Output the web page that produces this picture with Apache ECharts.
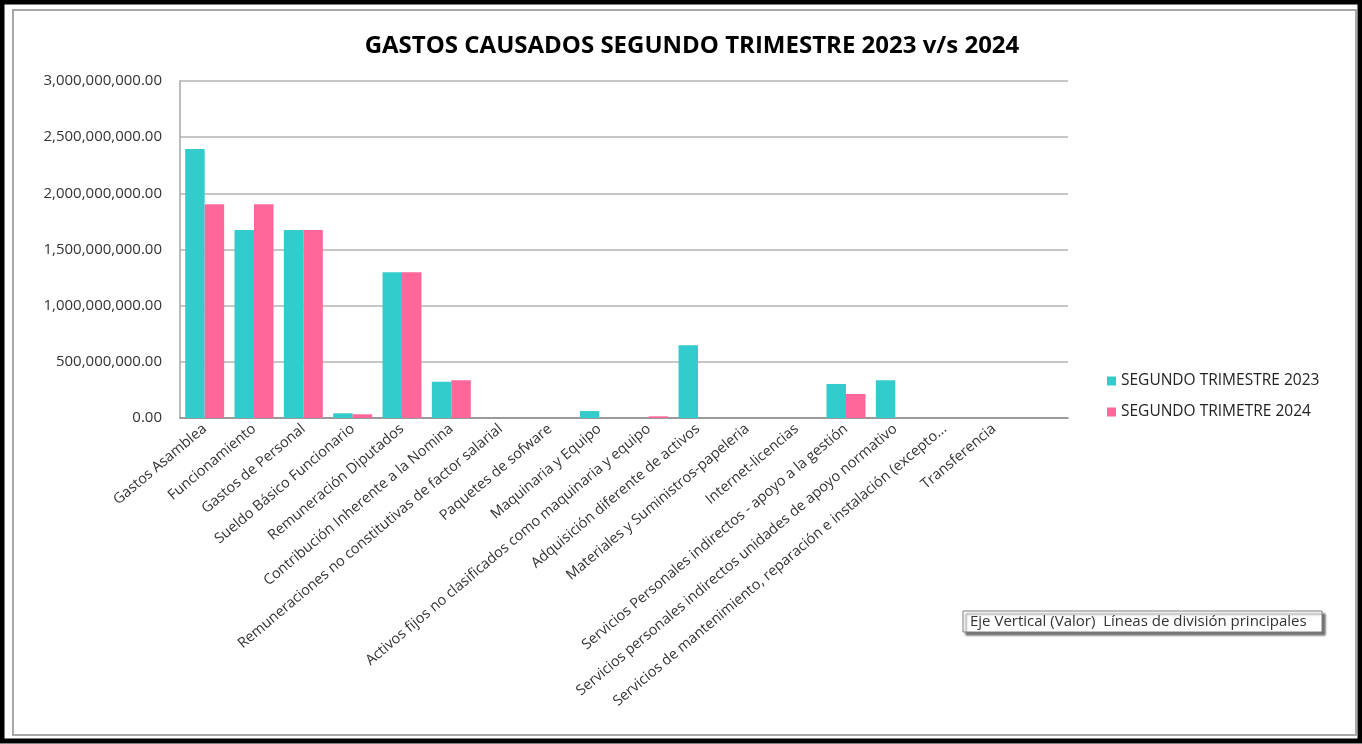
<!DOCTYPE html>
<html lang="es">
<head>
    <meta charset="UTF-8">
    <title>Gastos causados</title>
    <script src="https://cdn.jsdelivr.net/npm/echarts@6/dist/echarts.min.js"></script>
    <style>
        html, body {
            margin: 0;
            padding: 0;
            background: #fff;
        }
        #box {
            width: 1362px;
            height: 744px;
        }
    </style>
</head>
<body>
<div id="box"></div>
<script>
    // categorias (la ultima va vacia, asi sale en el original)
    var categorias = [
        'Gastos Asamblea',
        'Funcionamiento',
        'Gastos de Personal',
        'Sueldo Básico Funcionario',
        'Remuneración Diputados',
        'Contribución Inherente a la Nomina',
        'Remuneraciones no constitutivas de factor salarial',
        'Paquetes de sofware',
        'Maquinaria y Equipo',
        'Activos fijos no clasificados como maquinaria y equipo',
        'Adquisición diferente de activos',
        'Materiales y Suministros-papeleria',
        'Internet-licencias',
        'Servicios Personales indirectos - apoyo a la gestión',
        'Servicios personales indirectos unidades de apoyo normativo',
        'Servicios de mantenimiento, reparación e instalación (excepto...',
        'Transferencia',
        ''
    ];
    var nombres = ['SEGUNDO TRIMESTRE 2023', 'SEGUNDO TRIMETRE 2024'];
    var trimestre2023 = [2395000000, 1674000000, 1674000000, 42000000, 1297000000, 323000000, 0, 0, 62000000, 0, 647000000, 0, 0, 303000000, 336000000, 0, 0, 0];
    var trimestre2024 = [1902000000, 1902000000, 1674000000, 33000000, 1297000000, 336000000, 0, 0, 0, 15000000, 0, 0, 0, 214000000, 0, 0, 0, 0];
    var colores = ['#33CCCC', '#FF6699'];

    function formato(v) {
        var s = v.toFixed(2).split('.');
        return s[0].replace(/\B(?=(\d{3})+(?!\d))/g, ',') + '.' + s[1];
    }

    var fuente = "'Open Sans', 'Noto Sans', sans-serif";

    var myChart = echarts.init(document.getElementById('box'));
    var option = {
        backgroundColor: '#fff',
        animation: false,
        title: {
            text: 'GASTOS CAUSADOS SEGUNDO TRIMESTRE 2023 v/s 2024',
            left: 687,
            textAlign: 'center',
            top: 29,
            textStyle: {
                fontFamily: fuente,
                fontSize: 24,
                fontWeight: 'bold',
                color: '#000'
            }
        },
        legend: {
            orient: 'vertical',
            left: 1107,
            top: 373,
            padding: 0,
            itemWidth: 9,
            itemHeight: 9,
            itemGap: 15,
            icon: 'rect',
            textStyle: {
                fontFamily: fuente,
                fontSize: 15.5,
                color: '#222'
            },
            data: nombres
        },
        grid: {
            left: 180,
            top: 81,
            width: 888,
            height: 337
        },
        xAxis: {
            type: 'category',
            data: categorias,
            axisLine: {lineStyle: {color: '#8c8c8c', width: 1.5}},
            axisTick: {show: false},
            axisLabel: {
                interval: 0,
                rotate: 40,
                margin: 9,
                fontFamily: fuente,
                fontSize: 14.5,
                color: '#333'
            }
        },
        yAxis: {
            type: 'value',
            min: 0,
            max: 3000000000,
            interval: 500000000,
            axisLine: {show: true, lineStyle: {color: '#a6a6a6', width: 1.5}},
            axisTick: {show: false},
            splitLine: {lineStyle: {color: '#b3b3b3', width: 1.5}},
            axisLabel: {
                margin: 18,
                fontFamily: fuente,
                fontSize: 15,
                color: '#333',
                formatter: formato
            }
        },
        series: [
            {
                name: nombres[0],
                type: 'bar',
                data: trimestre2023,
                barGap: '0%',
                barCategoryGap: '21%',
                itemStyle: {color: colores[0]}
            },
            {
                name: nombres[1],
                type: 'bar',
                data: trimestre2024,
                barGap: '0%',
                barCategoryGap: '21%',
                itemStyle: {color: colores[1]}
            }
        ],
        graphic: [
            // marco exterior negro
            {
                type: 'rect',
                shape: {x: 2, y: 2, width: 1358, height: 739},
                style: {fill: 'none', stroke: '#000', lineWidth: 5},
                silent: true
            },
            // marco interior gris
            {
                type: 'rect',
                shape: {x: 13, y: 10, width: 1343, height: 725},
                style: {fill: 'none', stroke: '#a8a8a8', lineWidth: 2},
                silent: true
            },
            // cuadro de ayuda "Eje Vertical"
            {
                type: 'rect',
                shape: {x: 963, y: 611, width: 359, height: 21},
                style: {
                    fill: '#fff',
                    stroke: '#7f7f7f',
                    lineWidth: 1,
                    shadowColor: 'rgba(0,0,0,0.55)',
                    shadowBlur: 2,
                    shadowOffsetX: 3,
                    shadowOffsetY: 3
                },
                silent: true
            },
            {
                type: 'text',
                x: 970,
                y: 622,
                style: {
                    text: 'Eje Vertical (Valor)  Líneas de división principales',
                    fontFamily: fuente,
                    fontSize: 15,
                    fill: '#333',
                    textVerticalAlign: 'middle'
                },
                silent: true
            }
        ]
    };
    myChart.setOption(option);
    window.addEventListener('resize', myChart.resize);
</script>
</body>
</html>
